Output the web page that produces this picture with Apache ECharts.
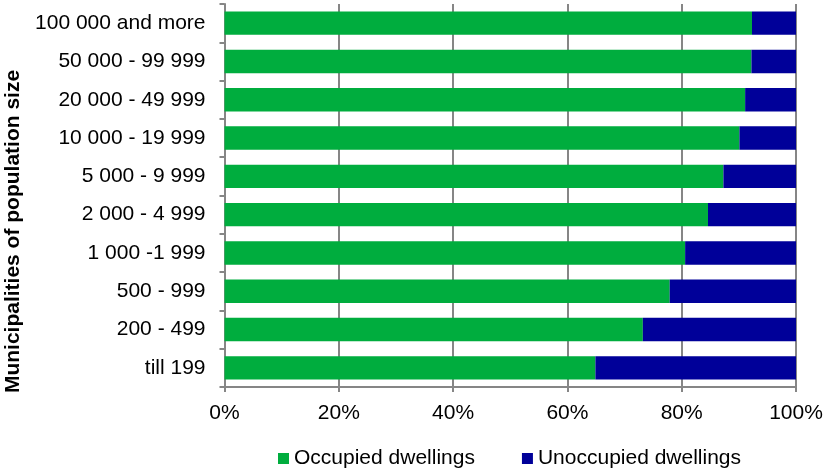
<!DOCTYPE html>
<html>
<head>
<meta charset="utf-8">
<script src="https://cdn.jsdelivr.net/npm/echarts@6/dist/echarts.min.js"></script>
<style>
  html, body { margin: 0; padding: 0; background: #fff; }
  #chart { width: 828px; height: 470px; }
</style>
</head>
<body>
<div id="chart"></div>
<script>
// Municipality size groups, listed top to bottom
const categories = [
  '100 000 and more', '50 000 - 99 999', '20 000 - 49 999', '10 000 - 19 999',
  '5 000 - 9 999', '2 000 - 4 999', '1 000 -1 999', '500 - 999', '200 - 499', 'till 199'
];
// Share of dwellings, percent
const occupied   = [92.3, 92.2, 91.1, 90.1, 87.3, 84.6, 80.6, 77.9, 73.2, 64.9];
const unoccupied = [7.7, 7.8, 8.9, 9.9, 12.7, 15.4, 19.4, 22.1, 26.8, 35.1];
const seriesNames = ['Occupied dwellings', 'Unoccupied dwellings'];
const axisTitle = 'Municipalities of population size';

const FONT = '"Liberation Sans", Arial, sans-serif';
const GREY = '#868686';

const chart = echarts.init(document.getElementById('chart'), null, { renderer: 'canvas' });
chart.setOption({
  animation: false,
  textStyle: { fontFamily: FONT },
  grid: { left: 224.5, right: 32, top: 4, bottom: 83, containLabel: false, outerBoundsMode: 'none' },
  legend: {
    top: 448,
    left: 278,
    padding: 0,
    icon: 'rect',
    itemWidth: 11,
    itemHeight: 11,
    itemGap: 47,
    textStyle: { fontSize: 21, color: '#000', fontFamily: FONT },
    data: seriesNames
  },
  xAxis: {
    type: 'value',
    min: 0,
    max: 100,
    interval: 20,
    axisLine: { show: true, lineStyle: { color: GREY, width: 2 } },
    axisTick: { show: true, length: 5, lineStyle: { color: GREY, width: 2 } },
    axisLabel: { formatter: '{value}%', fontSize: 21, color: '#000', margin: 16, fontFamily: FONT },
    splitLine: { show: true, lineStyle: { color: GREY, width: 2 } }
  },
  yAxis: {
    type: 'category',
    data: categories,
    inverse: true,
    name: axisTitle,
    nameLocation: 'middle',
    nameGap: 197.5,
    nameRotate: 90,
    nameTextStyle: {
      fontSize: 21, fontWeight: 'bold', color: '#000', fontFamily: FONT,
      // nudge the rotated title down along the axis
      padding: [0, 72, 0, 0]
    },
    axisLine: { show: true, lineStyle: { color: GREY, width: 2 } },
    axisTick: { show: true, length: 5, lineStyle: { color: GREY, width: 2 } },
    axisLabel: { fontSize: 21, color: '#000', margin: 19, fontFamily: FONT }
  },
  series: [
    {
      name: seriesNames[0],
      type: 'bar',
      stack: 'share',
      data: occupied,
      barCategoryGap: '39%',
      itemStyle: { color: '#00ad3e' }
    },
    {
      name: seriesNames[1],
      type: 'bar',
      stack: 'share',
      data: unoccupied,
      barCategoryGap: '39%',
      itemStyle: { color: '#000099' }
    }
  ]
});
</script>
</body>
</html>
